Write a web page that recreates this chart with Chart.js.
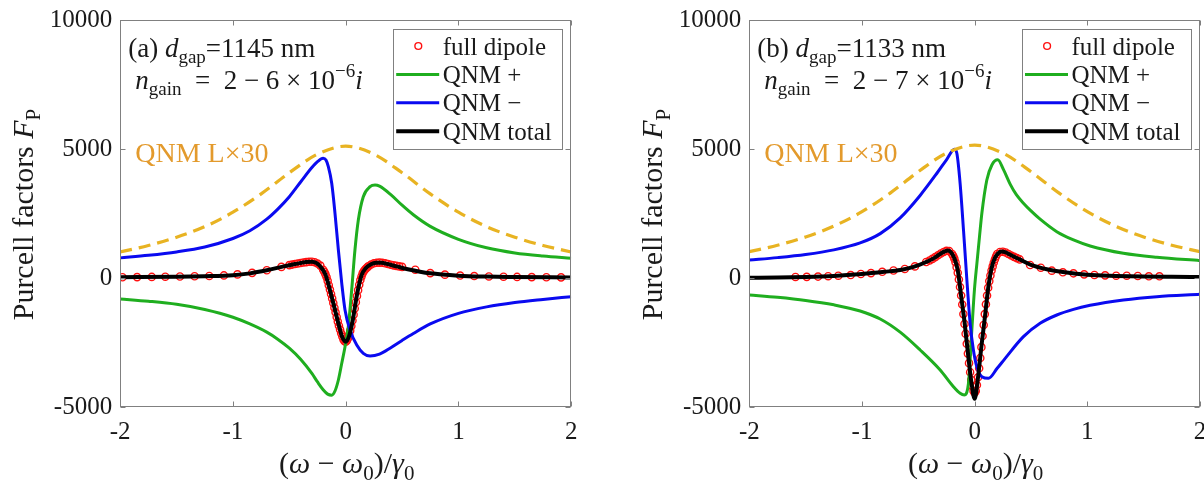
<!DOCTYPE html>
<html>
<head>
<meta charset="utf-8">
<script src="https://cdn.jsdelivr.net/npm/chart.js@4.4.0/dist/chart.umd.min.js"></script>
<style>
  html, body { margin: 0; padding: 0; background: #fff; overflow: hidden; width: 1204px; height: 481px; }
  .pane { position: absolute; top: 0; height: 481px; }
  #paneA { left: 0; width: 602px; }
  #paneB { left: 602px; width: 620px; }
</style>
</head>
<body>
<div class="pane" id="paneA"><canvas id="chartA" width="602" height="481"></canvas></div>
<div class="pane" id="paneB"><canvas id="chartB" width="620" height="481"></canvas></div>
<script>
// axes
const xTicks = [-2, -1, 0, 1, 2];
const yTicks = [-5000, 0, 5000, 10000];

// ---- panel (a) ----
const lorXa = [-2, -1.75, -1.5, -1.25, -1, -0.75, -0.5, -0.25, 0, 0.25, 0.5, 0.75, 1, 1.25, 1.5, 1.75, 2];
const lorYa = [1010, 1260, 1580, 1990, 2550, 3260, 4080, 4800, 5110, 4800, 4080, 3260, 2550, 1990, 1580, 1260, 1010];

const plusXa = [-2, -1.75, -1.5, -1.25, -1, -0.85, -0.7, -0.6, -0.5, -0.4, -0.3, -0.25, -0.2, -0.16, -0.124, -0.095, -0.065, -0.035, -0.006, 0.023, 0.053, 0.082, 0.112, 0.156, 0.216, 0.26, 0.3, 0.4, 0.5, 0.6, 0.75, 1, 1.25, 1.5, 1.75, 2];
const plusYa = [-810, -900, -1020, -1220, -1520, -1780, -2100, -2380, -2720, -3150, -3700, -4030, -4330, -4500, -4540, -4380, -3954, -3307, -2662, -1887, -465, 1085, 2248, 3152, 3540, 3605, 3560, 3230, 2820, 2450, 2000, 1500, 1170, 970, 850, 763];

const minusXa = [-2, -1.75, -1.5, -1.25, -1, -0.85, -0.7, -0.6, -0.5, -0.4, -0.3, -0.25, -0.2, -0.175, -0.154, -0.124, -0.095, -0.065, -0.035, -0.006, 0.038, 0.098, 0.156, 0.216, 0.3, 0.4, 0.5, 0.6, 0.75, 1, 1.25, 1.5, 1.75, 2];
const minusYa = [780, 880, 1010, 1200, 1530, 1830, 2280, 2680, 3150, 3720, 4280, 4510, 4640, 4570, 4314, 3670, 2508, 1085, -207, -1240, -2016, -2597, -2920, -3023, -2950, -2700, -2420, -2150, -1780, -1370, -1120, -950, -830, -724];

const totXa = [-2, -1.5, -1.25, -1, -0.85, -0.7, -0.55, -0.45, -0.4, -0.35, -0.3, -0.26, -0.22, -0.18, -0.14, -0.1, -0.06, -0.03, 0, 0.03, 0.06, 0.1, 0.14, 0.18, 0.22, 0.27, 0.32, 0.37, 0.45, 0.55, 0.75, 1, 1.25, 1.5, 2];
const totYa = [30, 50, 70, 110, 180, 300, 450, 540, 580, 620, 632, 580, 420, 140, -465, -1150, -1850, -2300, -2470, -2250, -1700, -650, 100, 390, 520, 590, 590, 540, 450, 340, 180, 90, 55, 40, 20];

const dipXa = [-1.98, -1.85, -1.72, -1.6, -1.47, -1.34, -1.21, -1.08, -0.96, -0.83, -0.7, -0.57,
  -0.5, -0.475, -0.45, -0.425, -0.4, -0.375, -0.35, -0.325, -0.3, -0.275, -0.25, -0.225,
  -0.2, -0.19, -0.18, -0.17, -0.16, -0.15, -0.14, -0.13, -0.12, -0.11, -0.1, -0.09, -0.08, -0.07, -0.06, -0.05, -0.04, -0.03, -0.02, -0.01,
  0, 0.01, 0.02, 0.03, 0.04, 0.05, 0.06, 0.07, 0.08, 0.09, 0.1, 0.11, 0.12, 0.13, 0.14, 0.15, 0.16, 0.17, 0.18, 0.19, 0.2,
  0.225, 0.25, 0.275, 0.3, 0.325, 0.35, 0.375, 0.4, 0.425, 0.45, 0.475, 0.5,
  0.617, 0.75, 0.88, 1.015, 1.14, 1.27, 1.4, 1.52, 1.65, 1.78, 1.91];
const dipYa = [30, 35, 42, 50, 58, 68, 80, 100, 140, 200, 300, 430,
  500, 520, 540, 560, 580, 600, 615, 628, 632, 610, 560, 480,
  320, 240, 150, 40, -110, -280, -450, -620, -790, -970, -1150, -1330, -1510, -1690, -1850, -2000, -2140, -2270, -2380, -2450,
  -2470, -2430, -2340, -2200, -2040, -1860, -1650, -1420, -1180, -940, -700, -470, -260, -80, 60, 180, 260, 320, 370, 410, 450,
  520, 570, 590, 595, 590, 570, 545, 515, 490, 470, 450, 430,
  320, 190, 130, 95, 75, 60, 50, 42, 35, 30, 25];

// ---- panel (b) ----
const lorXb = [-2, -1.75, -1.5, -1.25, -1, -0.75, -0.5, -0.25, 0, 0.25, 0.5, 0.75, 1, 1.25, 1.5, 1.75, 2];
const lorYb = [1020, 1270, 1590, 2010, 2570, 3290, 4120, 4840, 5150, 4840, 4120, 3290, 2570, 2010, 1590, 1270, 1020];

const plusXb = [-2, -1.75, -1.5, -1.25, -1.016, -0.838, -0.661, -0.484, -0.306, -0.188, -0.129, -0.093, -0.055, -0.025, -0.002, 0.02, 0.043, 0.064, 0.108, 0.153, 0.205, 0.256, 0.315, 0.37, 0.433, 0.5, 0.581, 0.729, 0.877, 1.025, 1.32, 1.617, 2];
const plusYb = [-659, -750, -870, -1040, -1280, -1590, -2100, -2790, -3566, -4213, -4470, -4535, -4083, -2016, -465, 570, 1602, 2508, 3798, 4380, 4580, 4200, 3640, 3230, 2900, 2600, 2280, 1795, 1473, 1240, 957, 802, 672];

const minusXb = [-2, -1.75, -1.5, -1.25, -1.016, -0.838, -0.661, -0.484, -0.335, -0.247, -0.179, -0.158, -0.129, -0.099, -0.069, -0.04, -0.011, 0.019, 0.064, 0.123, 0.2, 0.271, 0.433, 0.581, 0.729, 0.877, 1.025, 1.32, 1.617, 2];
const minusYb = [698, 790, 910, 1090, 1360, 1720, 2330, 3200, 4060, 4600, 4988, 4833, 3670, 1860, -78, -1756, -2791, -3438, -3825, -3888, -3500, -3114, -2274, -1756, -1434, -1214, -1059, -853, -724, -633];

const totXb = [-2, -1.75, -1.5, -1.25, -1, -0.8, -0.66, -0.55, -0.42, -0.35, -0.3, -0.26, -0.24, -0.21, -0.18, -0.15, -0.12, -0.09, -0.06, -0.03, 0, 0.03, 0.06, 0.09, 0.12, 0.15, 0.18, 0.21, 0.24, 0.27, 0.32, 0.4, 0.5, 0.64, 0.8, 1, 1.25, 1.5, 1.75, 2];
const totYb = [10, 20, 40, 80, 155, 240, 310, 420, 640, 800, 950, 1040, 1065, 1000, 760, 300, -700, -1700, -2900, -4000, -4680, -3850, -2650, -1550, -400, 380, 780, 960, 1025, 1000, 890, 720, 510, 340, 220, 125, 80, 55, 45, 40];

const dipXb = [-1.59, -1.49, -1.39, -1.3, -1.21, -1.1, -1.01, -0.92, -0.82, -0.72, -0.62, -0.53, -0.43,
  -0.4, -0.375, -0.35, -0.325, -0.3, -0.275, -0.25, -0.225,
  -0.2, -0.19, -0.18, -0.17, -0.16, -0.15, -0.14, -0.13, -0.12, -0.11, -0.1, -0.09, -0.08, -0.07, -0.06, -0.05, -0.04, -0.03, -0.02, -0.01,
  0, 0.01, 0.02, 0.03, 0.04, 0.05, 0.06, 0.07, 0.08, 0.09, 0.1, 0.11, 0.12, 0.13, 0.14, 0.15, 0.16, 0.17, 0.18, 0.19, 0.2,
  0.225, 0.25, 0.275, 0.3, 0.325, 0.35, 0.375, 0.4,
  0.492, 0.587, 0.685, 0.783, 0.877, 0.972, 1.063, 1.158, 1.256, 1.35, 1.448, 1.546, 1.64];
const dipYb = [40, 45, 55, 70, 90, 115, 155, 190, 240, 290, 350, 450, 620,
  680, 740, 810, 880, 950, 1010, 1055, 1040,
  930, 850, 750, 610, 420, 200, -60, -350, -680, -1030, -1400, -1780, -2160, -2550, -2930, -3300, -3650, -3950, -4200, -4380,
  -4450, -4380, -4150, -3850, -3500, -3100, -2680, -2250, -1820, -1400, -1020, -680, -380, -120, 100, 290, 450, 600, 730, 840, 930,
  1010, 1020, 990, 930, 870, 820, 770, 720,
  504, 400, 284, 220, 181, 142, 116, 103, 90, 90, 78, 65, 65];

const FONT = '"Liberation Serif", "Times New Roman", serif';
const INK = '#1a1a1a';
const AXIS = '#808080';
const C_DIP = '#ff1010';
const C_PLUS = '#1fae1f';
const C_MINUS = '#0a0af0';
const C_TOT = '#000000';
const C_LOR = '#e8b322';
const C_LOR_TEXT = '#e39a2c';

const pts = (xs, ys) => xs.map((x, i) => ({ x, y: ys[i] }));

function setFont(ctx, size, italic) {
  ctx.font = `${italic ? 'italic ' : ''}${size}px ${FONT}`;
}

// draws a run of text pieces: {t, it, sub, sup}
function drawRich(ctx, parts, x, y, size, measureOnly) {
  let cx = x;
  parts.forEach(p => {
    const fs = (p.sub || p.sup) ? Math.round(size * 0.7) : size;
    setFont(ctx, fs, p.it);
    const dy = p.sub ? size * 0.24 : (p.sup ? -size * 0.42 : 0);
    if (!measureOnly) ctx.fillText(p.t, cx, y + dy);
    cx += ctx.measureText(p.t).width;
  });
  return cx - x;
}

const yTitle = [{ t: 'Purcell factors ' }, { t: 'F', it: true }, { t: 'P', sub: true }];
const xTitle = [{ t: '(' }, { t: 'ω', it: true }, { t: ' − ' }, { t: 'ω', it: true }, { t: '0', sub: true }, { t: ')/' }, { t: 'γ', it: true }, { t: '0', sub: true }];

function makeDecor(panel) {
  return {
    id: 'decor' + panel.gap,
    afterDraw(chart) {
      const ctx = chart.ctx;
      const ca = chart.chartArea;
      const xs = chart.scales.x, ys = chart.scales.y;
      ctx.save();

      // box with inward ticks
      ctx.strokeStyle = AXIS;
      ctx.lineWidth = 1;
      const L = Math.round(ca.left) + 0.5, R = Math.round(ca.right) - 0.5;
      const T = Math.round(ca.top) + 0.5, B = Math.round(ca.bottom) - 0.5;
      ctx.strokeRect(L, T, R - L, B - T);
      ctx.beginPath();
      xTicks.forEach(v => {
        const px = Math.round(xs.getPixelForValue(v)) + 0.5;
        ctx.moveTo(px, B); ctx.lineTo(px, B - 5);
        ctx.moveTo(px, T); ctx.lineTo(px, T + 5);
      });
      yTicks.forEach(v => {
        const py = Math.round(ys.getPixelForValue(v)) + 0.5;
        ctx.moveTo(L, py); ctx.lineTo(L + 5, py);
        ctx.moveTo(R, py); ctx.lineTo(R - 5, py);
      });
      ctx.stroke();

      ctx.fillStyle = INK;
      ctx.textBaseline = 'alphabetic';
      ctx.textAlign = 'left';

      // axis titles
      const xw = drawRich(ctx, xTitle, 0, 0, 30, true);
      drawRich(ctx, xTitle, (ca.left + ca.right) / 2 + 1 - xw / 2, 473, 30);
      ctx.save();
      ctx.translate(ca.left - 87, (ca.top + ca.bottom) / 2 + 1);
      ctx.rotate(-Math.PI / 2);
      const yw = drawRich(ctx, yTitle, 0, 0, 30, true);
      drawRich(ctx, yTitle, -yw / 2, 0, 30);
      ctx.restore();

      // parameter annotations
      drawRich(ctx, [{ t: panel.tag + ' ' }, { t: 'd', it: true }, { t: 'gap', sub: true }, { t: '=' + panel.gap + ' nm' }],
        ca.left + 8, ca.top + 36.5, 27);
      drawRich(ctx, [{ t: 'n', it: true }, { t: 'gain', sub: true }, { t: '\u2002=\u2002' + '2 − ' + panel.gain + ' × 10' }, { t: '−6', sup: true }, { t: 'i', it: true }],
        ca.left + 15, ca.top + 68.5, 27);

      // label of the dashed curve
      const lor = chart.data.datasets.find(d => d.borderDash);
      ctx.fillStyle = C_LOR_TEXT;
      drawRich(ctx, [{ t: lor.label }], ca.left + 15, ca.top + 141.5, 28);

      // legend box
      const lx = ca.right - 178.5, ly = ca.top + 8.5, lw = 169, lh = 120;
      ctx.fillStyle = '#fff';
      ctx.fillRect(lx, ly, lw, lh);
      ctx.strokeStyle = AXIS;
      ctx.strokeRect(Math.round(lx) + 0.5, Math.round(ly) + 0.5, Math.round(lw), Math.round(lh));
      const entries = chart.data.datasets.filter(d => !d.borderDash);
      entries.forEach((d, i) => {
        const cy = ly + 17.5 + i * 28.4;
        if (d.showLine === false) {
          ctx.beginPath();
          ctx.arc(lx + 25.6, cy, 3.4, 0, Math.PI * 2);
          ctx.strokeStyle = d.pointBorderColor;
          ctx.lineWidth = 1.4;
          ctx.stroke();
        } else {
          ctx.beginPath();
          ctx.moveTo(lx + 3.5, cy); ctx.lineTo(lx + 46.5, cy);
          ctx.strokeStyle = d.borderColor;
          ctx.lineWidth = d.borderWidth;
          ctx.stroke();
        }
        ctx.fillStyle = INK;
        drawRich(ctx, [{ t: d.label }], lx + 50, cy + 8.5, 25);
      });
      ctx.restore();
    }
  };
}

function buildChart(canvasId, panel) {
  const lineDs = (label, xs, ys, color, width, order) => ({
    label, data: pts(xs, ys), borderColor: color, borderWidth: width,
    pointRadius: 0, cubicInterpolationMode: 'monotone', fill: false, order
  });
  const datasets = [
    {
      label: 'full dipole', data: pts(panel.dipX, panel.dipY), showLine: false,
      pointStyle: 'circle', pointRadius: 3.6, pointBorderWidth: 1.4,
      pointBorderColor: C_DIP, pointBackgroundColor: 'rgba(0,0,0,0)', order: 5
    },
    lineDs('QNM +', panel.plusX, panel.plusY, C_PLUS, 3, 4),
    lineDs('QNM −', panel.minusX, panel.minusY, C_MINUS, 3, 3),
    lineDs('QNM total', panel.totX, panel.totY, C_TOT, 4, 2),
    Object.assign(lineDs('QNM L×30', panel.lorX, panel.lorY, C_LOR, 3.2, 1), { borderDash: [12, 7] })
  ];
  const canvas = document.getElementById(canvasId);
  return new Chart(canvas, {
    type: 'line',
    data: { datasets },
    options: {
      responsive: false,
      animation: false,
      events: [],
      layout: { padding: { left: 0, top: 20, right: canvas.width - panel.right, bottom: 0 } },
      plugins: { legend: { display: false }, tooltip: { enabled: false } },
      scales: {
        x: {
          type: 'linear', min: -2, max: 2,
          grid: { display: false }, border: { display: false },
          afterBuildTicks: s => { s.ticks = xTicks.map(v => ({ value: v })); },
          ticks: { color: INK, font: { family: FONT, size: 25 }, padding: 2, maxRotation: 0 },
          afterFit: s => { s.height = 481 - 407; }
        },
        y: {
          type: 'linear', min: -5000, max: 10000,
          grid: { display: false }, border: { display: false },
          afterBuildTicks: s => { s.ticks = yTicks.map(v => ({ value: v })); },
          ticks: { color: INK, font: { family: FONT, size: 25 }, padding: 0, callback: v => String(v) },
          afterFit: s => { s.width = panel.left; }
        }
      }
    },
    plugins: [makeDecor(panel)]
  });
}

buildChart('chartA', {
  tag: '(a)', gap: '1145', gain: '6', left: 120.2, right: 571.2,
  lorX: lorXa, lorY: lorYa, plusX: plusXa, plusY: plusYa, minusX: minusXa, minusY: minusYa,
  totX: totXa, totY: totYa, dipX: dipXa, dipY: dipYa
});
buildChart('chartB', {
  tag: '(b)', gap: '1133', gain: '7', left: 147.3, right: 598,
  lorX: lorXb, lorY: lorYb, plusX: plusXb, plusY: plusYb, minusX: minusXb, minusY: minusYb,
  totX: totXb, totY: totYb, dipX: dipXb, dipY: dipYb
});
</script>
</body>
</html>
